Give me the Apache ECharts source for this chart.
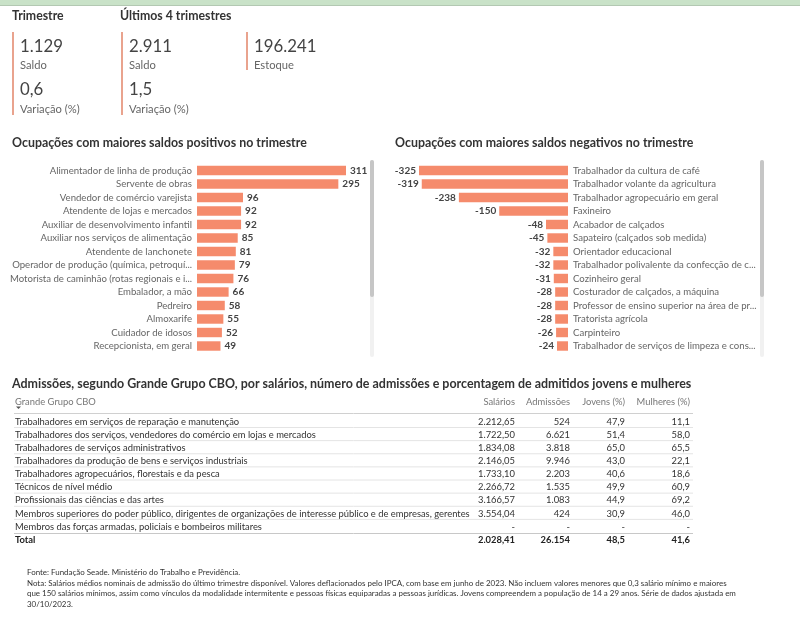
<!DOCTYPE html>
<html><head><meta charset="utf-8">
<script src="https://cdn.jsdelivr.net/npm/echarts@6/dist/echarts.min.js"></script>
<style>html,body{margin:0;padding:0;background:#fff}#c{width:800px;height:620px}</style>
</head><body><div id="c"></div>
<script>
// ---------- data ----------
const kpiTrimSaldo = 1129;
const kpiTrimVar = 0.6;
const kpi4Saldo = 2911;
const kpi4Var = 1.5;
const kpiEstoque = 196241;

const posCats = ['Alimentador de linha de produção','Servente de obras','Vendedor de comércio varejista','Atendente de lojas e mercados','Auxiliar de desenvolvimento infantil','Auxiliar nos serviços de alimentação','Atendente de lanchonete','Operador de produção (química, petroquí...','Motorista de caminhão (rotas regionais e i...','Embalador, a mão','Pedreiro','Almoxarife','Cuidador de idosos','Recepcionista, em geral'];
const posVals = [311,295,96,92,92,85,81,79,76,66,58,55,52,49];

const negCats = ['Trabalhador da cultura de café','Trabalhador volante da agricultura','Trabalhador agropecuário em geral','Faxineiro','Acabador de calçados','Sapateiro (calçados sob medida)','Orientador educacional','Trabalhador polivalente da confecção de c...','Cozinheiro geral','Costurador de calçados, a máquina','Professor de ensino superior na área de pr...','Tratorista agrícola','Carpinteiro','Trabalhador de serviços de limpeza e cons...'];
const negVals = [-325,-319,-238,-150,-48,-45,-32,-32,-31,-28,-28,-28,-26,-24];

const tableHeaders = ['Grande Grupo CBO','Salários','Admissões','Jovens (%)','Mulheres (%)'];
const tableGroups = ['Trabalhadores em serviços de reparação e manutenção','Trabalhadores dos serviços, vendedores do comércio em lojas e mercados','Trabalhadores de serviços administrativos','Trabalhadores da produção de bens e serviços industriais','Trabalhadores agropecuários, florestais e da pesca','Técnicos de nível médio','Profissionais das ciências e das artes','Membros superiores do poder público, dirigentes de organizações de interesse público e de empresas, gerentes','Membros das forças armadas, policiais e bombeiros militares'];
const salarios = [2212.65,1722.50,1834.08,2146.05,1733.10,2266.72,3166.57,3554.04,null];
const admissoes = [524,6621,3818,9946,2203,1535,1083,424,null];
const jovens = [47.9,51.4,65.0,43.0,40.6,49.9,44.9,30.9,null];
const mulheres = [11.1,58.0,65.5,22.1,18.6,60.9,69.2,46.0,null];
const totalLabel = 'Total';
const totals = [2028.41,26154,48.5,41.6];

const fonteText = 'Fonte: Fundação Seade. Ministério do Trabalho e Previdência.';
const notaLines = [
 'Nota: Salários médios nominais de admissão do último trimestre disponível. Valores deflacionados pelo IPCA, com base em junho de 2023. Não incluem valores menores que 0,3 salário mínimo e maiores',
 'que 150 salários mínimos, assim como vínculos da modalidade intermitente e pessoas físicas equiparadas a pessoas jurídicas. Jovens compreendem a população de 14 a 29 anos. Série de dados ajustada em',
 '30/10/2023.'
];

// ---------- helpers ----------
const FF = 'Lato, "Segoe UI", sans-serif';
const BAR = '#F58B6C';
const ACC = '#E9A38E';
const TS = 9.4; // table font size
function fmt(v, dec){
  if (v === null || v === undefined) return '-';
  const s = v.toFixed(dec);
  const parts = s.split('.');
  const ip = parts[0].replace(/\B(?=(\d{3})+(?!\d))/g, '.');
  return parts.length > 1 ? ip + ',' + parts[1] : ip;
}
function txt(x, y, text, size, color, opts){
  opts = opts || {};
  return {type:'text', silent:true, style:{x:x, y:y, text:text, fill:color,
    font:(opts.weight||'normal') + ' ' + size + 'px ' + FF,
    align:opts.align||'left', verticalAlign:opts.valign||'middle'}};
}
function rect(x,y,w,h,fill,r){
  return {type:'rect', silent:true, shape:{x:x,y:y,width:w,height:h,r:r||0}, style:{fill:fill}};
}
function hline(x1,x2,y,color){
  return {type:'line', silent:true, shape:{x1:x1,y1:y,x2:x2,y2:y}, style:{stroke:color, lineWidth:1}};
}

const g = [];
// top strip
g.push(rect(0,0,800,5,'#C9E2C8'));
g.push(rect(0,5,800,1,'#B3C8B2'));

// KPI block
g.push(txt(12,16,'Trimestre',12.3,'#333',{weight:'bold'}));
g.push(txt(120,16,'Últimos 4 trimestres',12.3,'#333',{weight:'bold'}));
g.push(rect(12,32,2,83,ACC));
g.push(rect(121,32,2,83,ACC));
g.push(rect(246,32,2,38,ACC));
const kpiBlocks = [
  [20, 46.5, fmt(kpiTrimSaldo,0), 'Saldo'],
  [20, 90, fmt(kpiTrimVar,1), 'Variação (%)'],
  [129, 46.5, fmt(kpi4Saldo,0), 'Saldo'],
  [129, 90, fmt(kpi4Var,1), 'Variação (%)'],
  [254, 46.5, fmt(kpiEstoque,0), 'Estoque']
];
kpiBlocks.forEach(function(b){
  g.push(txt(b[0], b[1], b[2], 16.8, '#444'));
  g.push(txt(b[0], b[1]+19.3, b[3], 11.2, '#666'));
});

// section titles
g.push(txt(12,143,'Ocupações com maiores saldos positivos no trimestre',12.4,'#333',{weight:'bold'}));
g.push(txt(395,143,'Ocupações com maiores saldos negativos no trimestre',12.4,'#333',{weight:'bold'}));

// scrollbars
g.push(rect(370,160,4,197,'#F1F1F1',2));
g.push(rect(370,160,4,137,'#C6C6C6',2));
g.push(rect(760,160,4,197,'#F1F1F1',2));
g.push(rect(760,160,4,137,'#C6C6C6',2));

// table
g.push(txt(12,383.5,'Admissões, segundo Grande Grupo CBO, por salários, número de admissões e porcentagem de admitidos jovens e mulheres',12.45,'#333',{weight:'bold'}));
const colRight = [515,570,625,690];
g.push(txt(15,402,tableHeaders[0],TS,'#777'));
g.push({type:'polygon', silent:true, shape:{points:[[16,406.5],[21,406.5],[18.5,409]]}, style:{fill:'#555'}});
for (let i=1;i<tableHeaders.length;i++) g.push(txt(colRight[i-1],402,tableHeaders[i],TS,'#777',{align:'right'}));
g.push(hline(14,693,413.5,'#D0D0D0'));
const rowTop = 421.7, rowStep = 13.125;
tableGroups.forEach(function(name,i){
  const y = rowTop + i*rowStep;
  g.push(txt(15,y,name,TS,'#333'));
  const vals = [fmt(salarios[i],2), fmt(admissoes[i],0), fmt(jovens[i],1), fmt(mulheres[i],1)];
  vals.forEach(function(v,j){ g.push(txt(colRight[j],y,v,TS,'#333',{align:'right'})); });
  if (i < tableGroups.length-1) g.push(hline(14,693,y+5.8,'#E4E4E4'));
});
g.push(hline(14,693,533.5,'#C8C8C8'));
g.push(txt(15,540,totalLabel,TS,'#222',{weight:'bold'}));
totals.forEach(function(v,j){
  const d = [2,0,1,1][j];
  g.push(txt(colRight[j],540,fmt(v,d),TS,'#222',{weight:'bold',align:'right'}));
});

// footnote
g.push(txt(27,572,fonteText,7.95,'#333'));
notaLines.forEach(function(l,i){ g.push(txt(27,583+i*10.8,l,7.95,'#333')); });

const chart = echarts.init(document.getElementById('c'), null, {renderer:'canvas'});
chart.setOption({
  animation:false,
  backgroundColor:'#fff',
  textStyle:{fontFamily:FF},
  grid:[
    {left:197, top:163.75, width:149, height:189},
    {left:419, top:163.75, width:149, height:189}
  ],
  xAxis:[
    {gridIndex:0, type:'value', min:0, max:'dataMax', show:false},
    {gridIndex:1, type:'value', min:'dataMin', max:0, show:false}
  ],
  yAxis:[
    {gridIndex:0, type:'category', data:posCats, inverse:true,
     axisLine:{show:false}, axisTick:{show:false},
     axisLabel:{color:'#666', fontSize:9.6, margin:5, fontFamily:FF}},
    {gridIndex:1, type:'category', data:negCats, inverse:true, position:'right',
     axisLine:{show:false}, axisTick:{show:false},
     axisLabel:{color:'#666', fontSize:9.6, margin:5, fontFamily:FF}}
  ],
  series:[
    {type:'bar', xAxisIndex:0, yAxisIndex:0, data:posVals, barCategoryGap:'30%',
     itemStyle:{color:BAR},
     label:{show:true, position:'right', distance:4, color:'#444', fontSize:10, fontWeight:'bold', fontFamily:FF}},
    {type:'bar', xAxisIndex:1, yAxisIndex:1, data:negVals, barCategoryGap:'30%',
     itemStyle:{color:BAR},
     label:{show:true, position:'left', distance:3, color:'#444', fontSize:10, fontWeight:'bold', fontFamily:FF}}
  ],
  graphic:{elements:g}
});
</script></body></html>
